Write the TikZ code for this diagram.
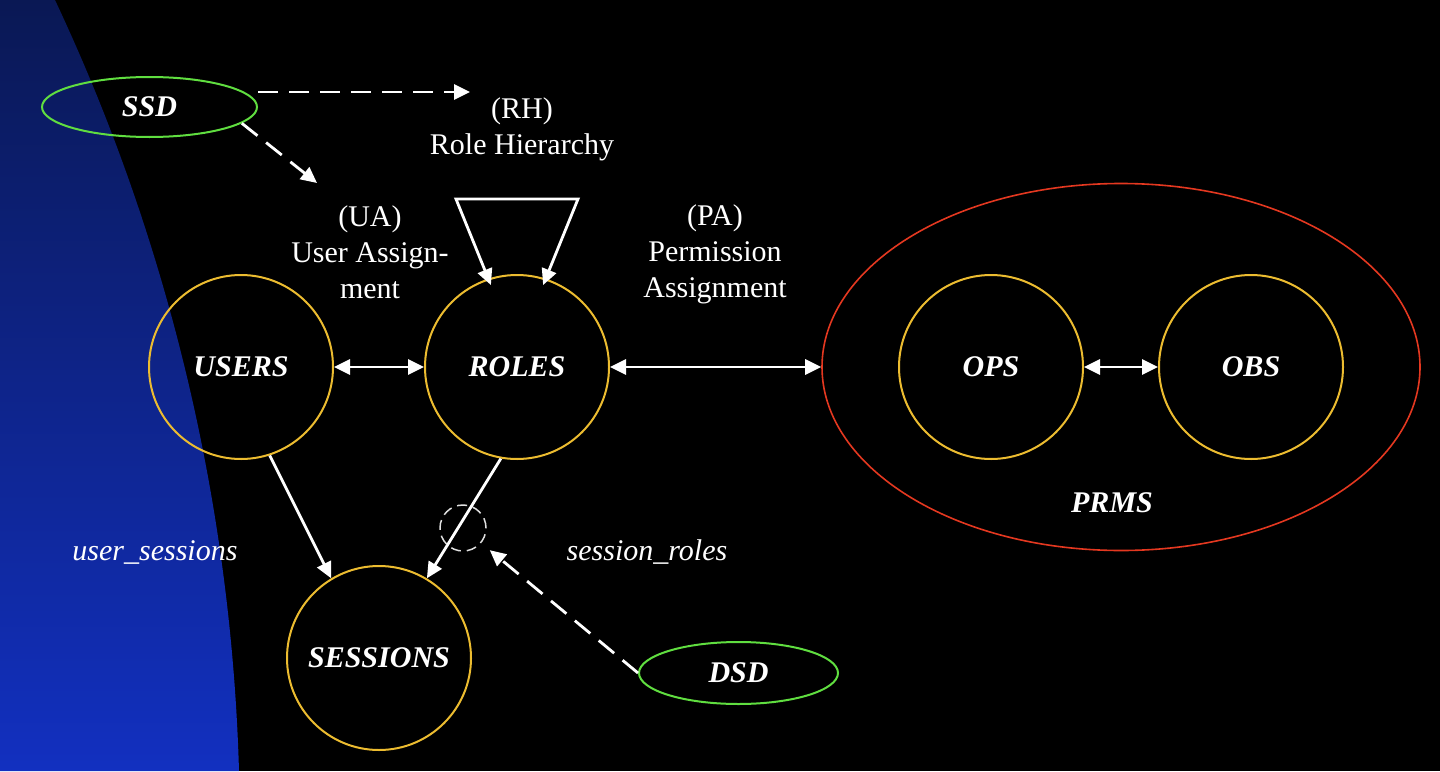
\documentclass[tikz,border=0pt]{standalone}
\usepackage{fontspec}
\setmainfont{Liberation Serif}
\usetikzlibrary{arrows.meta,shapes.geometric}
\definecolor{ringc}{RGB}{236,188,48}
\definecolor{ssdc}{RGB}{96,222,64}
\definecolor{prmc}{RGB}{228,56,32}
\definecolor{bgtop}{RGB}{10,24,84}
\definecolor{bgbot}{RGB}{18,48,192}
\begin{document}
\begin{tikzpicture}[x=1pt,y=-1pt,
  big/.style={font=\fontsize{30}{36}\selectfont\bfseries\itshape, text=white},
  lab/.style={font=\fontsize{30}{36}\selectfont, text=white, align=center},
  ilab/.style={font=\fontsize{30}{36}\selectfont\itshape, text=white},
  ring/.style={circle, draw=ringc, line width=2pt, minimum size=184pt, inner sep=0pt, big},
  sdring/.style={ellipse, draw=ssdc, line width=2pt, inner sep=0pt, big},
  wline/.style={draw=white, line width=2.8pt},
  arr/.style={wline, -{Triangle[length=16pt,width=15pt]}},
  dbl/.style={wline, {Triangle[length=16pt,width=15pt]}-{Triangle[length=16pt,width=15pt]}},
  darr/.style={arr, dash pattern=on 20pt off 11pt}
]
\useasboundingbox (0,0) rectangle (1440,771);
\fill[black] (0,0) rectangle (1440,771);
\shade[top color=bgtop, bottom color=bgbot] (0,0) -- (55,0) .. controls (168.7,241.5) and (231.3,504.2) .. (239,771) -- (0,771) -- cycle;

% nodes
\node[sdring, minimum width=215pt, minimum height=60pt] (ssd) at (149.5,107) {SSD};
\node[ring] (users) at (241,367) {USERS};
\node[ring] (roles) at (517,367) {ROLES};
\node[ring] (sessions) at (379,658) {SESSIONS};
\node[ring] (ops) at (991,367) {OPS};
\node[ring] (obs) at (1251,367) {OBS};
\node[ellipse, draw=prmc, line width=1.6pt, minimum width=598pt, minimum height=367pt] (prms) at (1121,367) {};
\node[big] (prmslab) at (1112,503) {PRMS};
\node[sdring, minimum width=199pt, minimum height=62pt] (dsd) at (738.5,673) {DSD};
\node[circle, draw=white!88!black, line width=1.5pt, dash pattern=on 10pt off 6pt, minimum size=46pt, inner sep=0pt] (sr) at (463,528) {};

% labels
\node[lab] (rh) at (522,129) {(RH)\\Role Hierarchy};
\node[lab] (ua) at (370,252) {(UA)\\User Assign-\\ment};
\node[lab] (pa) at (715,254) {(PA)\\Permission\\Assignment};
\node[ilab] (us) at (155,552) {user\_sessions};
\node[ilab] (srl) at (647,552) {session\_roles};

% free ends
\coordinate (rhtip) at (470,92);
\coordinate (uatip) at (317,183);
\coordinate (rhL) at (456,199);
\coordinate (rhR) at (578,199);

% connectors
\draw[darr] (ssd.east |- rhtip) -- (rhtip);
\draw[darr] (ssd.-10) -- (uatip);
\draw[dbl, line join=miter, shorten <=-7pt, shorten >=-7pt] (roles.108) -- (rhL) -- (rhR) -- (roles.72);
\draw[dbl] (users) -- (roles);
\draw[dbl] (roles) -- (prms);
\draw[dbl] (ops) -- (obs);
\draw[arr] (users.-72) -- (sessions.121);
\draw[arr] (roles.-100) -- (sessions.59);
\draw[darr, shorten >=11pt] (dsd.west) -- (sr);
\end{tikzpicture}
\end{document}
